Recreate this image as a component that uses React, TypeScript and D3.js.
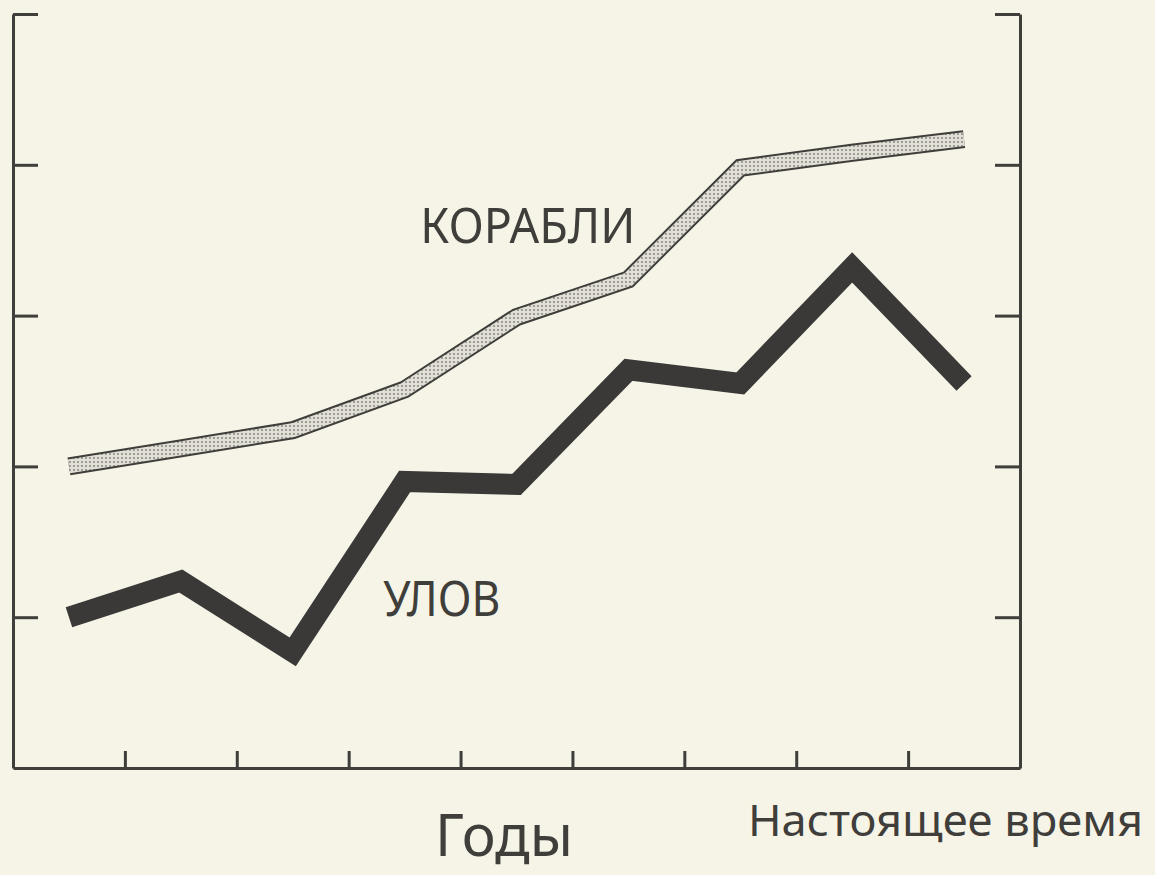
import React, { useEffect, useRef } from "react";
import * as d3 from "d3";

// values, y in axis units (0..5), one point per interval
const periods = [0, 1, 2, 3, 4, 5, 6, 7, 8];
const ships = [2.0, 2.12, 2.24, 2.51, 2.99, 3.24, 3.98, 4.08, 4.17];
const catchValues = [1.0, 1.24, 0.77, 1.9, 1.88, 2.64, 2.55, 3.32, 2.55];
const xTicks = [1, 2, 3, 4, 5, 6, 7, 8];
const yTicks = [1, 2, 3, 4, 5];

const WIDTH = 1155;
const HEIGHT = 875;
const PLOT = { left: 13, right: 1020, top: 14, bottom: 768 };
const INK = "#3f3e3b";
const FONT = "'Noto Sans', 'DejaVu Sans', sans-serif";

const App = () => {
  const axesRef = useRef<SVGGElement>(null);

  const xScale = d3.scaleLinear().domain([0, 9]).range([PLOT.left, PLOT.right]);
  const yScale = d3.scaleLinear().domain([0, 5]).range([PLOT.bottom, PLOT.top]);

  useEffect(() => {
    const g = d3.select(axesRef.current);
    g.selectAll("*").remove();

    const noLabel = () => "";

    g.append("g")
      .attr("transform", `translate(${PLOT.left},0)`)
      .call(d3.axisLeft(yScale).tickValues(yTicks).tickSize(-25).tickSizeOuter(0).tickFormat(noLabel));

    g.append("g")
      .attr("transform", `translate(${PLOT.right},0)`)
      .call(d3.axisRight(yScale).tickValues(yTicks).tickSize(-25).tickSizeOuter(0).tickFormat(noLabel));

    g.append("g")
      .attr("transform", `translate(0,${PLOT.bottom})`)
      .call(d3.axisBottom(xScale).tickValues(xTicks).tickSize(-17).tickSizeOuter(0).tickFormat(noLabel));

    g.selectAll("path.domain").attr("stroke", INK).attr("stroke-width", 3);
    g.selectAll(".tick line").attr("stroke", INK).attr("stroke-width", 3);
  }, []);

  const line = d3
    .line<number>()
    .x((_, i) => xScale(periods[i] + 0.5))
    .y((d) => yScale(d));

  return (
    <svg
      width={WIDTH}
      height={HEIGHT}
      style={{ position: "absolute", left: 0, top: 0, background: "#f6f4e7" }}
    >
      <defs>
        <pattern id="dots" width="4" height="4" patternUnits="userSpaceOnUse">
          <rect width="4" height="4" fill="#e2e0d6" />
          <circle cx="2" cy="2" r="0.9" fill="#7d7c76" />
        </pattern>
      </defs>

      <g ref={axesRef} />

      {/* КОРАБЛИ: outlined band with stippled fill */}
      <path d={line(ships) ?? ""} fill="none" stroke={INK} strokeWidth={18} strokeLinejoin="miter" />
      <path d={line(ships) ?? ""} fill="none" stroke="url(#dots)" strokeWidth={14} strokeLinejoin="miter" />

      {/* УЛОВ: heavy dark line */}
      <path d={line(catchValues) ?? ""} fill="none" stroke="#3b3937" strokeWidth={21} strokeLinejoin="miter" />

      <g fill={INK} fontFamily={FONT}>
        <text x={xScale(3.64)} y={yScale(3.48)} fontSize={50} textLength={215} lengthAdjust="spacingAndGlyphs">
          КОРАБЛИ
        </text>
        <text x={xScale(3.31)} y={yScale(1.01)} fontSize={50} textLength={117} lengthAdjust="spacingAndGlyphs">
          УЛОВ
        </text>
        <text x={435} y={856} fontSize={58} textLength={138} lengthAdjust="spacingAndGlyphs">
          Годы
        </text>
        <text x={748} y={836} fontSize={43} textLength={395} lengthAdjust="spacingAndGlyphs">
          Настоящее время
        </text>
      </g>
    </svg>
  );
};

export default App;
